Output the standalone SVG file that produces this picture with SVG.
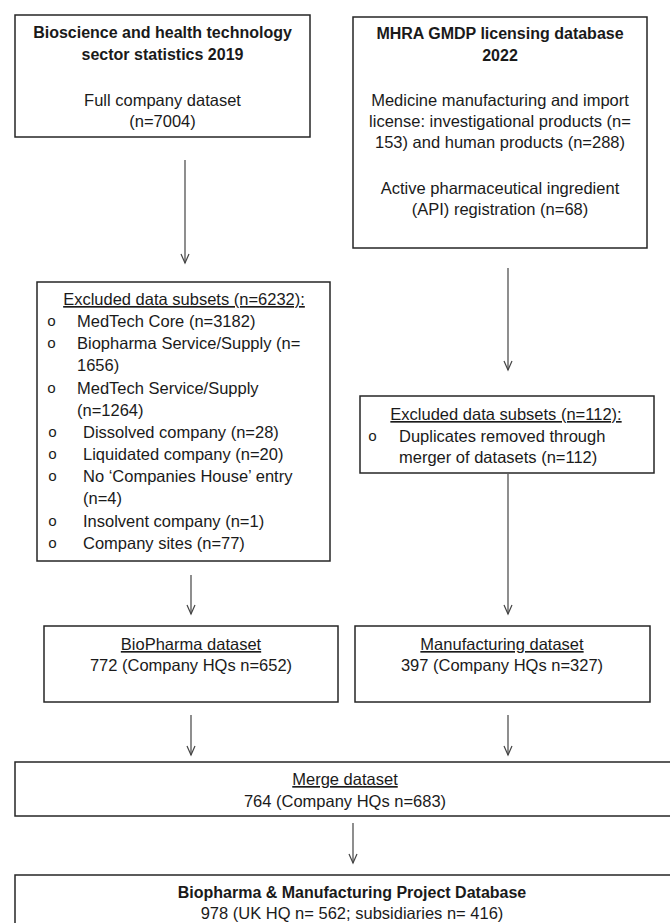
<svg xmlns="http://www.w3.org/2000/svg" width="670" height="923" viewBox="0 0 670 923">
  <defs>
    <style>
      .box { fill: #ffffff; stroke: #262626; stroke-width: 1.5; }
      .t { font-family: "Liberation Sans", Arial, sans-serif; font-size: 16.5px; fill: #1a1a1a; }
      .b { font-weight: bold; font-size: 16px; }
      .c { text-anchor: middle; }
      .u { text-decoration: underline; }
      .bul { font-family: "Liberation Mono", "Courier New", monospace; font-size: 15px; fill: #1a1a1a; }
      .conn line { stroke: #444444; stroke-width: 1.2; fill: none; marker-end: url(#ah); }
    </style>
    <marker id="ah" markerWidth="12" markerHeight="12" refX="10" refY="5" orient="auto" markerUnits="userSpaceOnUse" viewBox="0 0 12 10">
      <path d="M1,1 L10,5 L1,9" fill="none" stroke="#444444" stroke-width="1.2"/>
    </marker>
  </defs>
  <rect width="670" height="923" fill="#ffffff"/>

  <g id="connectors" class="conn">
    <line x1="185" y1="160" x2="185" y2="263"/>
    <line x1="508" y1="268" x2="508" y2="370"/>
    <line x1="508" y1="474" x2="508" y2="614"/>
    <line x1="191" y1="575" x2="191" y2="614"/>
    <line x1="191" y1="715" x2="191" y2="755"/>
    <line x1="508" y1="715" x2="508" y2="755"/>
    <line x1="353" y1="823" x2="353" y2="863"/>
  </g>

  <g id="node-bioscience">
    <rect class="box" x="15" y="15" width="295" height="122"/>
    <text class="t b c" x="162.5" y="38">Bioscience and health technology</text>
    <text class="t b c" x="162.5" y="60">sector statistics 2019</text>
    <text class="t c" x="162.5" y="106">Full company dataset</text>
    <text class="t c" x="162.5" y="127">(n=7004)</text>
  </g>

  <g id="node-mhra">
    <rect class="box" x="353" y="17" width="294" height="231"/>
    <text class="t b c" x="500" y="39">MHRA GMDP licensing database</text>
    <text class="t b c" x="500" y="61">2022</text>
    <text class="t c" x="500" y="106">Medicine manufacturing and import</text>
    <text class="t c" x="500" y="127">license: investigational products (n=</text>
    <text class="t c" x="500" y="148">153) and human products (n=288)</text>
    <text class="t c" x="500" y="194">Active pharmaceutical ingredient</text>
    <text class="t c" x="500" y="215">(API) registration (n=68)</text>
  </g>

  <g id="node-excluded-left">
    <rect class="box" x="37" y="282" width="293" height="279"/>
    <text class="t u c" x="184" y="305">Excluded data subsets (n=6232):</text>
    <text class="bul" x="47" y="326">o</text>
    <text class="t" x="77" y="327">MedTech Core (n=3182)</text>
    <text class="bul" x="47" y="348">o</text>
    <text class="t" x="77" y="349">Biopharma Service/Supply (n=</text>
    <text class="t" x="77" y="371">1656)</text>
    <text class="bul" x="47" y="393">o</text>
    <text class="t" x="77" y="394">MedTech Service/Supply</text>
    <text class="t" x="77" y="416">(n=1264)</text>
    <text class="bul" x="48" y="437">o</text>
    <text class="t" x="83" y="438">Dissolved company (n=28)</text>
    <text class="bul" x="48" y="459">o</text>
    <text class="t" x="83" y="460">Liquidated company (n=20)</text>
    <text class="bul" x="48" y="481">o</text>
    <text class="t" x="83" y="482">No ‘Companies House’ entry</text>
    <text class="t" x="83" y="504">(n=4)</text>
    <text class="bul" x="48" y="526">o</text>
    <text class="t" x="83" y="527">Insolvent company (n=1)</text>
    <text class="bul" x="48" y="548">o</text>
    <text class="t" x="83" y="549">Company sites (n=77)</text>
  </g>

  <g id="node-excluded-right">
    <rect class="box" x="360" y="396" width="294" height="77"/>
    <text class="t u c" x="506" y="420">Excluded data subsets (n=112):</text>
    <text class="bul" x="368" y="441">o</text>
    <text class="t" x="399" y="442">Duplicates removed through</text>
    <text class="t" x="399" y="463">merger of datasets (n=112)</text>
  </g>

  <g id="node-biopharma">
    <rect class="box" x="44" y="626" width="294" height="76"/>
    <text class="t u c" x="191" y="650">BioPharma dataset</text>
    <text class="t c" x="191" y="671">772 (Company HQs n=652)</text>
  </g>

  <g id="node-manufacturing">
    <rect class="box" x="355" y="626" width="295" height="76"/>
    <text class="t u c" x="502" y="650">Manufacturing dataset</text>
    <text class="t c" x="502" y="671">397 (Company HQs n=327)</text>
  </g>

  <g id="node-merge">
    <rect class="box" x="15" y="762" width="665" height="54"/>
    <text class="t u c" x="345" y="785">Merge dataset</text>
    <text class="t c" x="345" y="807">764 (Company HQs n=683)</text>
  </g>

  <g id="node-final">
    <rect class="box" x="15" y="875" width="665" height="60"/>
    <text class="t b c" x="352" y="898">Biopharma &amp; Manufacturing Project Database</text>
    <text class="t c" x="352" y="919">978 (UK HQ n= 562; subsidiaries n= 416)</text>
  </g>
</svg>
